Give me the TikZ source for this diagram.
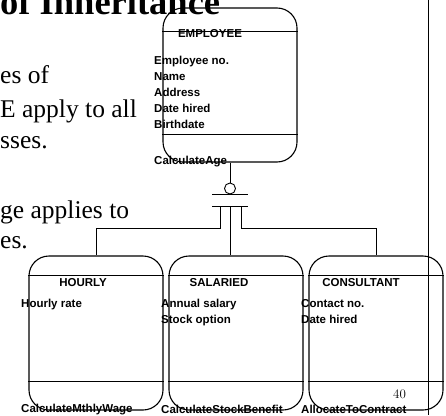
\documentclass[tikz,border=0pt]{standalone}
\usepackage{fontspec}
\setsansfont{Liberation Sans}
\newfontfamily\slidefont{Liberation Serif}
\usetikzlibrary{positioning}

\begin{document}
\begin{tikzpicture}[
     x=1pt, y=-1pt,
     % define styles
     entity/.style={
         draw,
         rounded corners=20pt,
         line width=1.1pt,
         minimum width=134pt,
         minimum height=154pt,
         inner sep=0pt
     },
     divider/.style={line width=1.1pt},
     link/.style={line width=0.9pt},
     ename/.style={
         font=\sffamily\bfseries\fontsize{11.5}{14}\selectfont,
         anchor=base,
         inner sep=0pt
     },
     attr/.style={
         font=\sffamily\bfseries\fontsize{11.5}{14}\selectfont,
         anchor=base west,
         inner sep=0pt
     },
     slide/.style={
         font=\slidefont\fontsize{25.5}{30}\selectfont,
         anchor=base west,
         inner sep=0pt
     }
]
\useasboundingbox (0,0) rectangle (446,415);

% slide text behind the diagram
\node[slide, font=\slidefont\bfseries\fontsize{36.5}{40}\selectfont] (title) at (0,14) {of Inheritance};
\node[slide] (line1) at (0,83) {es of};
\node[slide] (line2) at (0,117) {E apply to all};
\node[slide] (line3) at (0,148) {sses.};
\node[slide] (line4) at (0,218) {ge applies to};
\node[slide] (line5) at (0,248) {es.};
\node[font=\fontsize{13}{15}\selectfont, anchor=base, inner sep=0pt] (page) at (399.5,398) {40};
\draw[line width=0.9pt] (428,0) -- (428,415);

% supertype
\node[entity] (emp) at (230,85) {};
\draw[divider] ([yshift=-24pt]emp.north west) -- ([yshift=-24pt]emp.north east);
\draw[divider] ([yshift=28pt]emp.south west) -- ([yshift=28pt]emp.south east);
\node[ename] (empname) at (210,37) {EMPLOYEE};
\node[attr] (emp1) at (154,64) {Employee no.};
\node[attr] (emp2) at ([yshift=-16pt]emp1.base west) {Name};
\node[attr] (emp3) at ([yshift=-16pt]emp2.base west) {Address};
\node[attr] (emp4) at ([yshift=-16pt]emp3.base west) {Date hired};
\node[attr] (emp5) at ([yshift=-16pt]emp4.base west) {Birthdate};
\node[attr] (empop) at (154,164) {CalculateAge};

% subtypes
\node[entity] (hourly) at (96,333) {};
\node[entity] (salaried) at (236,333) {};
\node[entity] (consultant) at (376,333) {};
\foreach \e in {hourly,salaried,consultant}{
    \draw[divider] ([yshift=-20pt]\e.north west) -- ([yshift=-20pt]\e.north east);
    \draw[divider] ([yshift=29pt]\e.south west) -- ([yshift=29pt]\e.south east);
}
\node[ename] (hourlyname) at (83,286) {HOURLY};
\node[attr] (hourly1) at (21,307) {Hourly rate};
\node[attr] (hourlyop) at (21,412) {CalculateMthlyWage};

\node[ename] (salariedname) at (219,286) {SALARIED};
\node[attr] (salaried1) at (161,307) {Annual salary};
\node[attr] (salaried2) at ([yshift=-16pt]salaried1.base west) {Stock option};
\node[attr] (salariedop) at (161,413) {CalculateStockBenefit};

\node[ename] (consultantname) at (361,286) {CONSULTANT};
\node[attr] (consultant1) at (301,307) {Contact no.};
\node[attr] (consultant2) at ([yshift=-16pt]consultant1.base west) {Date hired};
\node[attr] (consultantop) at (301,413) {AllocateToContract};

% generalization symbol
\node[draw, circle, link, minimum size=11pt, inner sep=0pt] (isa) at (230,188.5) {};
\coordinate (bartop) at (230,194);
\coordinate (barlow) at (230,206);
\coordinate (split) at (230,228);
\draw[link] (emp.south) -- (isa.north);
\draw[link] ([xshift=-18pt]bartop) -- ([xshift=18pt]bartop);
\draw[link] ([xshift=-18pt]barlow) -- ([xshift=18pt]barlow);
\draw[link] ([xshift=-10pt]barlow) |- ([xshift=-10pt]split) -| (hourly.north);
\draw[link] (barlow) -- (barlow |- salaried.north);
\draw[link] ([xshift=11pt]barlow) |- ([xshift=11pt]split) -| (consultant.north);
\end{tikzpicture}
\end{document}
